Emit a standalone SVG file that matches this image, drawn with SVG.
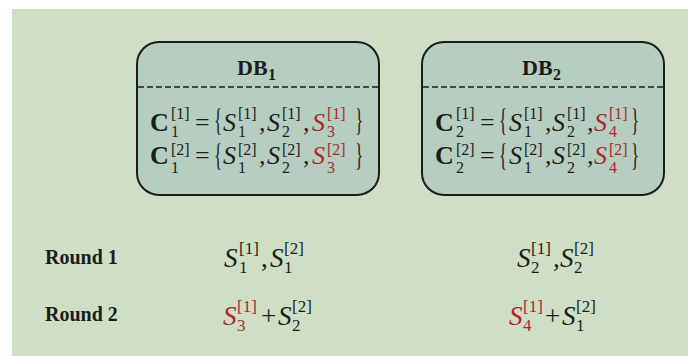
<svg xmlns="http://www.w3.org/2000/svg" width="688" height="356" viewBox="0 0 688 356">
<style>
.t{font-family:"Liberation Serif","Times New Roman",serif;fill:#1c1c1c}
.b{font-weight:bold}
.i{font-style:italic}
.m{font-size:26px}
.s{font-size:16px}
.m2{font-size:27px}
.s2{font-size:17px}
.br{font-size:31px}
.r{fill:#b0252c}
.lbl{font-size:20px;font-weight:bold}
.box{fill:#b5cec0;stroke:#1c1c1c;stroke-width:2}
.dash{stroke:#1c1c1c;stroke-width:1.6;stroke-dasharray:6,3;fill:none}
</style>
<rect x="0" y="0" width="688" height="356" fill="#ffffff"/>
<rect x="12" y="9" width="676" height="347" fill="#cfdfc5"/>

<g id="db1">
<rect class="box" x="137" y="42" width="242" height="153" rx="22" ry="22"/>
<line class="dash" x1="138" y1="87" x2="378" y2="87"/>
<text class="t b" x="237" y="75" font-size="22">DB</text>
<text class="t b" x="268" y="80" font-size="16">1</text>
<g>
<text class="t b m" x="150" y="131">C</text>
<text class="t s" x="171" y="119">[1]</text>
<text class="t s" x="171" y="137">1</text>
<text class="t m" x="195" y="131">=</text>
<text class="t br" transform="translate(214,131) scale(0.55,1)">{</text>
<text class="t i m" x="223" y="131">S</text>
<text class="t s" x="238" y="119">[1]</text>
<text class="t s" x="238" y="137">1</text>
<text class="t m" x="259" y="131">,</text>
<text class="t i m" x="267" y="131">S</text>
<text class="t s" x="282" y="119">[1]</text>
<text class="t s" x="282" y="137">2</text>
<text class="t m" x="303" y="131">,</text>
<text class="t i m r" x="312" y="131">S</text>
<text class="t s r" x="327" y="119">[1]</text>
<text class="t s r" x="327" y="137">3</text>
<text class="t br" transform="translate(355,131) scale(0.55,1)">}</text>
</g>
<g>
<text class="t b m" x="150" y="164">C</text>
<text class="t s" x="171" y="155">[2]</text>
<text class="t s" x="171" y="173">1</text>
<text class="t m" x="195" y="164">=</text>
<text class="t br" transform="translate(214,166) scale(0.55,1)">{</text>
<text class="t i m" x="223" y="164">S</text>
<text class="t s" x="238" y="155">[2]</text>
<text class="t s" x="238" y="173">1</text>
<text class="t m" x="259" y="164">,</text>
<text class="t i m" x="267" y="164">S</text>
<text class="t s" x="282" y="155">[2]</text>
<text class="t s" x="282" y="173">2</text>
<text class="t m" x="303" y="164">,</text>
<text class="t i m r" x="312" y="164">S</text>
<text class="t s r" x="327" y="155">[2]</text>
<text class="t s r" x="327" y="173">3</text>
<text class="t br" transform="translate(355,166) scale(0.55,1)">}</text>
</g>
</g>

<g id="db2">
<rect class="box" x="422" y="42" width="242" height="153" rx="22" ry="22"/>
<line class="dash" x1="423" y1="87" x2="663" y2="87"/>
<text class="t b" x="522" y="75" font-size="22">DB</text>
<text class="t b" x="553" y="80" font-size="16">2</text>
<g>
<text class="t b m" x="435" y="131">C</text>
<text class="t s" x="456" y="119">[1]</text>
<text class="t s" x="456" y="137">2</text>
<text class="t m" x="480" y="131">=</text>
<text class="t br" transform="translate(499,131) scale(0.55,1)">{</text>
<text class="t i m" x="509" y="131">S</text>
<text class="t s" x="524" y="119">[1]</text>
<text class="t s" x="524" y="137">1</text>
<text class="t m" x="545" y="131">,</text>
<text class="t i m" x="552" y="131">S</text>
<text class="t s" x="567" y="119">[1]</text>
<text class="t s" x="567" y="137">2</text>
<text class="t m" x="587" y="131">,</text>
<text class="t i m r" x="594" y="131">S</text>
<text class="t s r" x="609" y="119">[1]</text>
<text class="t s r" x="609" y="137">4</text>
<text class="t br" transform="translate(631,131) scale(0.55,1)">}</text>
</g>
<g>
<text class="t b m" x="435" y="164">C</text>
<text class="t s" x="456" y="155">[2]</text>
<text class="t s" x="456" y="173">2</text>
<text class="t m" x="480" y="164">=</text>
<text class="t br" transform="translate(499,166) scale(0.55,1)">{</text>
<text class="t i m" x="509" y="164">S</text>
<text class="t s" x="524" y="155">[2]</text>
<text class="t s" x="524" y="173">1</text>
<text class="t m" x="545" y="164">,</text>
<text class="t i m" x="552" y="164">S</text>
<text class="t s" x="567" y="155">[2]</text>
<text class="t s" x="567" y="173">2</text>
<text class="t m" x="587" y="164">,</text>
<text class="t i m r" x="594" y="164">S</text>
<text class="t s r" x="609" y="155">[2]</text>
<text class="t s r" x="609" y="173">4</text>
<text class="t br" transform="translate(631,166) scale(0.55,1)">}</text>
</g>
</g>

<g id="round1">
<text class="t lbl" x="45" y="264">Round 1</text>
<text class="t i m2" x="224" y="267">S</text>
<text class="t s2" x="239" y="254">[1]</text>
<text class="t s2" x="239" y="273">1</text>
<text class="t m2" x="261" y="267">,</text>
<text class="t i m2" x="270" y="267">S</text>
<text class="t s2" x="284" y="254">[2]</text>
<text class="t s2" x="284" y="273">1</text>
<text class="t i m2" x="517" y="267">S</text>
<text class="t s2" x="531" y="254">[1]</text>
<text class="t s2" x="531" y="273">2</text>
<text class="t m2" x="553" y="267">,</text>
<text class="t i m2" x="560" y="267">S</text>
<text class="t s2" x="574" y="254">[2]</text>
<text class="t s2" x="574" y="273">2</text>
</g>

<g id="round2">
<text class="t lbl" x="45" y="321">Round 2</text>
<text class="t i m2 r" x="223" y="325">S</text>
<text class="t s2 r" x="237" y="312">[1]</text>
<text class="t s2 r" x="237" y="331">3</text>
<text class="t m2" x="261" y="325">+</text>
<text class="t i m2" x="278" y="325">S</text>
<text class="t s2" x="292" y="312">[2]</text>
<text class="t s2" x="292" y="331">2</text>
<text class="t i m2 r" x="509" y="325">S</text>
<text class="t s2 r" x="523" y="312">[1]</text>
<text class="t s2 r" x="523" y="331">4</text>
<text class="t m2" x="545" y="325">+</text>
<text class="t i m2" x="562" y="325">S</text>
<text class="t s2" x="576" y="312">[2]</text>
<text class="t s2" x="576" y="331">1</text>
</g>

<g id="connectors"></g>
</svg>
